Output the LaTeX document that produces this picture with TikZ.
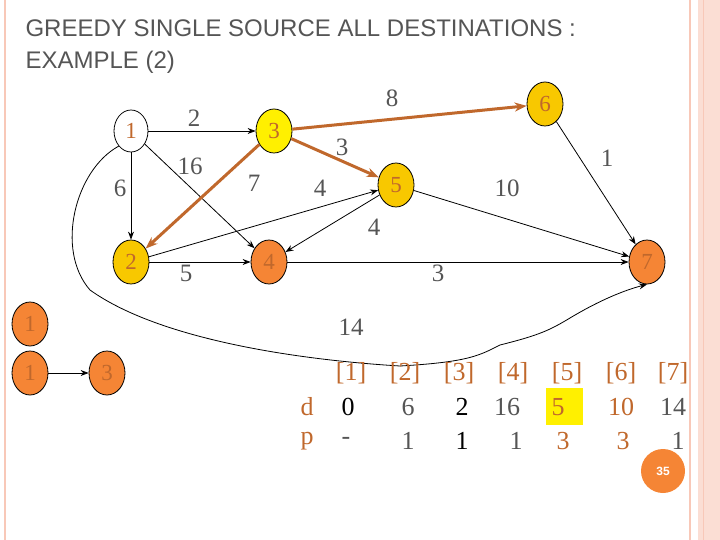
\documentclass[tikz,border=0pt]{standalone}
\usepackage{fontspec}
\setmainfont{Liberation Serif}
\setsansfont{Liberation Sans}
\usetikzlibrary{arrows.meta,shapes.geometric}
\definecolor{brd}{HTML}{F8C8B8}
\definecolor{org}{HTML}{F58535}
\definecolor{gold}{HTML}{F8C800}
\definecolor{yel}{HTML}{FFF000}
\definecolor{brn}{HTML}{C0682C}
\definecolor{txt}{HTML}{555555}
\tikzset{
 vtx/.style={ellipse,draw,thick,minimum width=36pt,minimum height=44pt,inner sep=0pt,font=\fontsize{23}{23}\selectfont,text=brn},
 arr/.style={-{Stealth[length=8pt]},thick},
 hot/.style={-{Stealth[length=12pt,width=9pt]},line width=3pt,draw=brn},
 lbl/.style={font=\fontsize{25}{25}\selectfont,text=txt},
 tb/.style={font=\fontsize{26}{26}\selectfont,text=txt},
}
\begin{document}
\begin{tikzpicture}[x=1pt,y=-1pt]
\useasboundingbox (0,0) rectangle (720,540);
\draw[brd,line width=2pt] (5,0)--(5,540);
\draw[brd,line width=2pt] (690,0)--(690,540);
\fill[brd!60] (698,0) rectangle (720,540);
\draw[brd,line width=1pt] (703,0)--(703,540);
\node[anchor=west,font=\sffamily\fontsize{24}{32}\selectfont,text=txt,align=left] (title) at (22,47) {GREEDY SINGLE SOURCE ALL DESTINATIONS :\\EXAMPLE (2)};
\node[vtx,fill=white,minimum width=34pt,minimum height=42pt] (n1) at (131,131) {1};
\node[vtx,fill=yel] (n3) at (274,131) {3};
\node[vtx,fill=gold] (n6) at (545,104) {6};
\node[vtx,fill=gold] (n5) at (396,185) {5};
\node[vtx,fill=gold] (n2) at (131,262) {2};
\node[vtx,fill=org] (n4) at (269,262) {4};
\node[vtx,fill=org] (n7) at (647,262) {7};
\draw[arr] (n1)--(n3);
\draw[arr] (n1)--(n2);
\draw[arr] (n1)--(n4);
\draw[arr] (n2)--(n4);
\draw[arr] (n2)--(n5);
\draw[arr] (n5)--(n4);
\draw[arr] (n5)--(n7);
\draw[arr] (n4)--(n7);
\draw[arr] (n6)--(n7);
\draw[hot] (n3)--(n6);
\draw[hot] (n3)--(n5);
\draw[hot] (n3)--(n2);
\draw[arr] (n1.south west) .. controls (75,170) and (55,250) .. (90,290)
  .. controls (160,340) and (300,360) .. (400,366)
  .. controls (470,362) and (480,355) .. (500,345)
  .. controls (540,335) and (550,330) .. (570,318)
  .. controls (600,300) and (625,290) .. (n7.south);
\node[lbl] (l2) at (194,118) {2};
\node[lbl] (l16) at (190,166) {16};
\node[lbl] (l6) at (120,188) {6};
\node[lbl] (l7) at (254,183) {7};
\node[lbl] (l4a) at (320,188) {4};
\node[lbl] (l3a) at (342,147) {3};
\node[lbl] (l8) at (392,98) {8};
\node[lbl] (l1) at (607,158) {1};
\node[lbl] (l10) at (507,188) {10};
\node[lbl] (l4b) at (374,227) {4};
\node[lbl] (l5) at (186,273) {5};
\node[lbl] (l3b) at (438,273) {3};
\node[lbl] (l14) at (351,327) {14};
\node[vtx,fill=org] (a1) at (30,324) {1};
\node[vtx,fill=org] (b1) at (30,373) {1};
\node[vtx,fill=org] (b3) at (107,373) {3};
\draw[arr] (b1)--(b3);
\fill[yel] (546,388) rectangle (583,425);
\foreach \t/\x in {[1]/351,[2]/405,[3]/459,[4]/513,[5]/567,[6]/621,[7]/673}
  \node[tb,text=brn] at (\x,373) {\t};
\node[tb,text=brn] (d) at (307,407) {d};
\node[tb,text=brn] (p) at (307,441) {p};
\foreach \t/\x/\c in {0/348/black,6/408/txt,2/462/black,16/507/txt,5/558/brn,10/621/brn,14/673/txt}
  \node[tb,text=\c] at (\x,407) {\t};
\foreach \t/\x/\c in {-/346/txt,1/408/txt,1/462/black,1/516/txt,3/563/brn,3/623/brn,1/678/txt}
  \node[tb,text=\c] at (\x,441) {\t};
\node[circle,fill=org,minimum size=44pt,inner sep=0pt,text=white,font=\sffamily\bfseries\fontsize{12}{12}\selectfont] (pg) at (663,471) {35};
\end{tikzpicture}
\end{document}
